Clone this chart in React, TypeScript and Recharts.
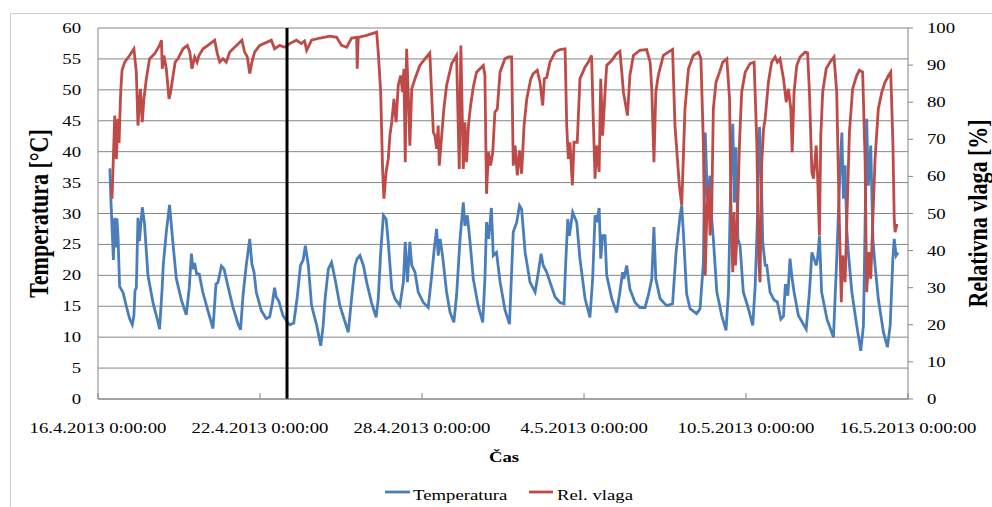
import { ComposedChart, Line, XAxis, YAxis, CartesianGrid, ReferenceLine, Label } from "recharts"

// time in days since 16.4.2013 0:00
const tempTime = [
  0.44, 0.48, 0.57, 0.62, 0.66, 0.7, 0.74, 0.8, 0.93, 1.05, 1.17, 1.27, 1.33, 1.37, 1.42, 1.48, 1.53, 1.64, 1.72, 1.85,
  2.04, 2.22, 2.28, 2.37, 2.42, 2.53, 2.65, 2.78, 2.9, 3.09, 3.27, 3.38, 3.46, 3.52, 3.58, 3.65, 3.75, 3.88, 4.07, 4.26,
  4.37, 4.44, 4.57, 4.67, 4.81, 5.0, 5.19, 5.28, 5.37, 5.49, 5.62, 5.7, 5.78, 5.86, 6.05, 6.23, 6.36, 6.46, 6.54, 6.6,
  6.7, 6.85, 7.0, 7.1, 7.25, 7.38, 7.5, 7.6, 7.68, 7.79, 7.91, 8.1, 8.25, 8.34, 8.41, 8.53, 8.65, 8.78, 8.96, 9.27,
  9.39, 9.52, 9.6, 9.7, 9.83, 9.95, 10.13, 10.3, 10.38, 10.47, 10.57, 10.67, 10.75, 10.88, 11.0, 11.18, 11.31, 11.38, 11.46, 11.55,
  11.62, 11.74, 11.86, 12.05, 12.23, 12.36, 12.44, 12.54, 12.6, 12.67, 12.76, 12.91, 13.04, 13.18, 13.28, 13.41, 13.53, 13.59, 13.68, 13.78,
  13.9, 14.08, 14.25, 14.33, 14.39, 14.47, 14.57, 14.64, 14.76, 14.89, 15.07, 15.24, 15.38, 15.51, 15.61, 15.69, 15.82, 16.0, 16.19, 16.31,
  16.41, 16.49, 16.62, 16.74, 16.93, 17.11, 17.26, 17.33, 17.4, 17.46, 17.58, 17.73, 17.85, 18.04, 18.22, 18.32, 18.41, 18.47, 18.56, 18.62,
  18.69, 18.78, 18.84, 19.03, 19.21, 19.33, 19.43, 19.48, 19.58, 19.7, 19.89, 20.07, 20.26, 20.38, 20.51, 20.59, 20.66, 20.82, 21.06, 21.28,
  21.41, 21.56, 21.62, 21.7, 21.8, 21.93, 22.17, 22.3, 22.42, 22.49, 22.57, 22.67, 22.73, 22.79, 22.92, 23.1, 23.26, 23.35, 23.44, 23.51,
  23.57, 23.63, 23.7, 23.78, 23.9, 24.09, 24.25, 24.34, 24.42, 24.5, 24.56, 24.62, 24.71, 24.77, 24.89, 25.04, 25.16, 25.29, 25.39, 25.46,
  25.55, 25.63, 25.71, 25.78, 25.94, 26.23, 26.35, 26.44, 26.52, 26.6, 26.65, 26.72, 26.8, 27.0, 27.24, 27.36, 27.46, 27.55, 27.61, 27.67,
  27.73, 27.79, 27.92, 28.1, 28.25, 28.35, 28.41, 28.47, 28.53, 28.62, 28.7, 28.78, 28.9, 29.09, 29.24, 29.34, 29.44, 29.49, 29.56, 29.63,
]
const tempValue = [
  37.3, 32, 22.5, 29.3, 24.5, 29.2, 26.5, 18.2, 17.2, 15, 13, 12, 13.5, 17.5, 18, 29.3, 25.5, 31, 28.5, 20,
  15.5, 12.5, 11.3, 17.5, 21.8, 27, 31.4, 25, 19.5, 16, 13.6, 18, 23.5, 21, 22, 20.3, 20.2, 17.3, 14.3, 11.4,
  18.6, 18.8, 21.5, 21, 18.3, 14.8, 12.1, 11.2, 16.7, 21.6, 25.9, 21.8, 20.5, 17.3, 14.3, 13, 13.3, 15.6, 18, 16.5,
  15.8, 13.5, 12.5, 12, 12.3, 16.5, 21.6, 22.5, 24.8, 21.6, 15.1, 11.9, 8.6, 11.9, 16.2, 21, 22.1, 19.4, 15.1, 10.8,
  16.2, 21.6, 22.7, 23.2, 21.6, 18.9, 15.6, 13.2, 16.2, 23.7, 29.7, 29.1, 25.4, 17.8, 16.2, 15.1, 18.9, 25.4, 18.9, 25.4,
  21.6, 20.5, 17.3, 15.6, 14.8, 20, 23.7, 27.5, 23.2, 25.9, 23.2, 17.3, 14, 12.4, 16.7, 25.9, 31.8, 28, 29.7, 25.4,
  19.4, 15.1, 12.4, 19.4, 28.6, 25.9, 30.9, 23.2, 23.7, 19, 14.5, 12.1, 27, 28.6, 31.3, 30.7, 23.7, 18.9, 17.3, 20.5,
  23.5, 21.6, 20.5, 18.9, 16.5, 15.6, 15.4, 22.7, 29.1, 26.4, 30.2, 28.6, 22.7, 16.2, 13.2, 19.4, 29.7, 28.6, 30.9, 22.7,
  26.4, 26.4, 20, 16.2, 14, 17.3, 20.5, 19.4, 21.6, 17.8, 15.6, 14.8, 14.8, 16.7, 19.4, 27.8, 19.4, 16.2, 15.1, 15.4,
  23.7, 29.7, 31.3, 25.4, 17, 14.6, 13.8, 14.6, 22, 43.1, 32.4, 36.1, 29.1, 25.9, 17.3, 13.5, 11.1, 17.3, 36.1, 44.5,
  31.8, 40.7, 25.9, 24.8, 17.3, 14.6, 11.9, 18.3, 28.6, 44, 37.8, 25.4, 21.6, 21.6, 17.3, 16, 15.7, 12.9, 13.4, 18.6,
  16.7, 22.7, 19.4, 17.3, 13.5, 11.3, 17.3, 23.7, 22.7, 21.6, 22.7, 26.4, 17.3, 12.9, 10, 22.7, 34.5, 43.1, 32.4, 37.8,
  27.5, 23.7, 17.3, 11.9, 7.8, 11.9, 28, 45.3, 34.5, 41, 25.9, 21.6, 16.2, 10.8, 8.4, 11.9, 22.7, 25.9, 23.2, 23.7,
]

const rhTime = [
  0.49, 0.52, 0.62, 0.68, 0.74, 0.78, 0.84, 0.89, 0.99, 1.17, 1.33, 1.38, 1.42, 1.48, 1.57, 1.64, 1.7, 1.79, 1.91, 2.1,
  2.28, 2.35, 2.38, 2.44, 2.53, 2.63, 2.69, 2.78, 2.86, 2.96, 3.15, 3.31, 3.4, 3.48, 3.58, 3.67, 3.74, 3.89, 4.07, 4.32,
  4.42, 4.51, 4.63, 4.75, 4.88, 5.06, 5.33, 5.43, 5.53, 5.62, 5.7, 5.8, 5.99, 6.42, 6.54, 6.73, 6.91, 7.1, 7.35, 7.53,
  7.65, 7.73, 7.91, 8.22, 8.59, 8.84, 9.02, 9.21, 9.39, 9.58, 9.6, 9.64, 9.95, 10.32, 10.38, 10.47, 10.54, 10.59, 10.67, 10.75,
  10.81, 10.88, 10.96, 11.04, 11.12, 11.21, 11.28, 11.33, 11.38, 11.43, 11.49, 11.55, 11.62, 11.74, 11.92, 12.11, 12.29, 12.42, 12.48, 12.54,
  12.6, 12.64, 12.73, 12.81, 12.91, 13.1, 13.28, 13.38, 13.44, 13.53, 13.59, 13.65, 13.72, 13.8, 13.9, 14.02, 14.27, 14.33, 14.39, 14.46,
  14.54, 14.62, 14.7, 14.79, 14.89, 15.07, 15.2, 15.32, 15.38, 15.45, 15.53, 15.61, 15.69, 15.78, 15.88, 16.03, 16.12, 16.27, 16.37, 16.47,
  16.53, 16.62, 16.74, 16.93, 17.11, 17.3, 17.36, 17.42, 17.48, 17.57, 17.63, 17.75, 17.85, 18.04, 18.16, 18.28, 18.35, 18.41, 18.47, 18.56,
  18.62, 18.69, 18.78, 18.84, 19.03, 19.21, 19.33, 19.4, 19.46, 19.61, 19.7, 19.83, 20.07, 20.32, 20.45, 20.51, 20.59, 20.66, 20.75, 20.94,
  21.12, 21.28, 21.37, 21.46, 21.53, 21.62, 21.74, 21.87, 22.05, 22.24, 22.33, 22.42, 22.49, 22.55, 22.61, 22.67, 22.73, 22.79, 22.89, 23.02,
  23.14, 23.29, 23.39, 23.45, 23.51, 23.56, 23.61, 23.66, 23.76, 23.84, 23.97, 24.15, 24.3, 24.4, 24.47, 24.52, 24.58, 24.65, 24.71, 24.83,
  24.95, 25.08, 25.16, 25.26, 25.39, 25.49, 25.57, 25.66, 25.71, 25.78, 25.88, 26.0, 26.19, 26.28, 26.35, 26.44, 26.5, 26.6, 26.65, 26.72,
  26.77, 26.84, 26.97, 27.11, 27.26, 27.36, 27.46, 27.53, 27.58, 27.67, 27.73, 27.83, 27.95, 28.1, 28.2, 28.32, 28.41, 28.47, 28.56, 28.62,
  28.7, 28.78, 28.9, 29.03, 29.15, 29.28, 29.36, 29.44, 29.49, 29.52, 29.58, 29.63,
]
const rhValue = [
  57.6, 54, 76.4, 64.7, 75.5, 69, 82.7, 88.6, 90.8, 92.6, 94.4, 90.8, 88.1, 73.7, 83.6, 74.6, 80.9, 86.3, 91.7, 93.1,
  95.3, 96.7, 89, 92.6, 89, 80.9, 82.7, 87.2, 90.8, 91.7, 94.4, 95.3, 93.5, 89, 92.2, 90.8, 92.6, 94.4, 95.3, 96.7,
  93.1, 90.8, 91.7, 90.8, 93.5, 94.8, 96.7, 93.5, 92.2, 87.7, 90.8, 93.5, 95.3, 96.7, 94.4, 95.3, 94.8, 95.8, 96.7, 95.8,
  96.5, 94, 96.7, 97.3, 97.8, 97.5, 95.3, 94.8, 97.3, 97.5, 89, 97.5, 98, 98.9, 93.5, 82.7, 62, 54, 61.2, 64.7,
  71, 74.6, 80.9, 74.6, 84.5, 87.2, 82.7, 89, 63.8, 94.4, 82.7, 68.3, 83.6, 86.3, 89.9, 91.7, 93.3, 71.9, 71, 67.4,
  73.7, 62.9, 71, 78.2, 84.5, 90.4, 92.6, 62, 95.3, 62, 74.6, 63.8, 73.7, 79.1, 84.1, 88.1, 89.9, 87.2, 55.3, 66.5,
  62.9, 66.5, 77.3, 78.2, 88.1, 91.7, 92.2, 92.2, 62.9, 68.3, 60.3, 67, 60.7, 73.7, 80.9, 86.3, 87.7, 88.6, 85.4, 79.1,
  86.3, 86.7, 90.8, 93.5, 94.2, 94.4, 73.7, 64.7, 69.2, 57.6, 69.2, 69.2, 86.3, 89.5, 90.8, 92.6, 73.7, 59.4, 68.3, 61.2,
  86.3, 71, 82.7, 89.9, 91.3, 93.1, 93.7, 88.1, 82.7, 76.4, 87.2, 92.6, 94, 94.2, 90.8, 83.6, 63.8, 82.7, 87.2, 92.6,
  93.5, 94.2, 73.7, 64.7, 57.6, 52.2, 78.2, 89, 92.6, 93.5, 91.7, 69.2, 33.3, 50.4, 57.6, 44.1, 50.4, 78.2, 85.4, 88.1,
  90.8, 91.7, 80.9, 49.5, 34.2, 50.4, 36, 43.2, 69.2, 82.7, 88.1, 90.4, 90.8, 69.2, 37.8, 31.5, 63, 72.8, 75.5, 85.4,
  90.8, 92.2, 90.8, 91.7, 86.3, 80, 83.6, 78.2, 66.5, 82.7, 89.9, 92.2, 93.5, 93.3, 82.7, 61.2, 59.4, 68.3, 60.3, 44.1,
  71, 82.7, 89, 90.8, 92.2, 82.7, 46.8, 26.1, 38.7, 31.5, 46.8, 71.9, 83.6, 87.2, 88.6, 88.1, 64.7, 28.8, 39.6, 32.4,
  48.6, 64.7, 78.2, 82.7, 85.4, 87.2, 88.1, 69.2, 48.6, 45, 46.8, 46.8,
]

const xTicks = [0, 6, 12, 18, 24, 30]
const xTickLabels = [
  "16.4.2013 0:00:00",
  "22.4.2013 0:00:00",
  "28.4.2013 0:00:00",
  "4.5.2013 0:00:00",
  "10.5.2013 0:00:00",
  "16.5.2013 0:00:00",
]
const tempTicks = [0, 5, 10, 15, 20, 25, 30, 35, 40, 45, 50, 55, 60]
const rhTicks = [0, 10, 20, 30, 40, 50, 60, 70, 80, 90, 100]
const markerDay = 7

const tempData = tempTime.map((t, i) => ({ t, v: tempValue[i] }))
const rhData = rhTime.map((t, i) => ({ t, v: rhValue[i] }))

const FONT = '"Liberation Serif", "Times New Roman", serif'
const SX = 1.25 // text in the original is stretched horizontally
const BLUE = "#4A7EBB"
const RED = "#BE4B48"
const AXIS = "#868686"

const LeftTick = ({ x, y, payload }: any) => (
  <g transform={`translate(${x - 17},${y + 5}) scale(${SX},1)`}>
    <text textAnchor="end" fontFamily={FONT} fontSize={15} fill="#000">
      {payload.value}
    </text>
  </g>
)

const RightTick = ({ x, y, payload }: any) => (
  <g transform={`translate(${x + 14},${y + 5}) scale(${SX},1)`}>
    <text textAnchor="start" fontFamily={FONT} fontSize={15} fill="#000">
      {payload.value}
    </text>
  </g>
)

const BottomTick = ({ x, y, payload }: any) => {
  const idx = xTicks.indexOf(payload.value)
  return (
    <g>
      <line x1={x} x2={x} y1={y} y2={y - 6} stroke={AXIS} />
      <g transform={`translate(${x},${y + 34}) scale(${SX},1)`}>
        <text textAnchor="middle" fontFamily={FONT} fontSize={15} fill="#000">
          {idx >= 0 ? xTickLabels[idx] : ""}
        </text>
      </g>
    </g>
  )
}

const VerticalTitle = (text: string, dx: number) => (props: any) => {
  const vb = props.viewBox || {}
  const cx = (vb.x ?? 0) + dx
  const cy = (vb.y ?? 28) + (vb.height ?? 371) / 2
  return (
    <g transform={`translate(${cx},${cy}) scale(${SX},1) rotate(-90)`}>
      <text textAnchor="middle" fontFamily={FONT} fontSize={22} fontWeight="bold" fill="#000">
        {text}
      </text>
    </g>
  )
}

const BottomTitle = (props: any) => {
  const vb = props.viewBox || {}
  const cx = (vb.x ?? 98) + (vb.width ?? 810) / 2 + 1
  const cy = (vb.y ?? 399) + 63
  return (
    <g transform={`translate(${cx},${cy}) scale(${SX},1)`}>
      <text textAnchor="middle" fontFamily={FONT} fontSize={15} fontWeight="bold" fill="#000">
        Čas
      </text>
    </g>
  )
}

export default function App() {
  return (
    <div style={{ position: "absolute", left: 0, top: 0, width: 992, height: 507, overflow: "hidden", background: "#fff" }}>
      <div
        style={{
          position: "absolute",
          left: 10,
          top: 13,
          width: 1100,
          height: 600,
          border: "1px solid #cfcfcf",
        }}
      />
      <div style={{ position: "absolute", left: 0, top: 0 }}>
        <ComposedChart width={992} height={507} margin={{ top: 28, right: 0, bottom: 0, left: 0 }}>
          <CartesianGrid yAxisId="left" vertical={false} stroke={AXIS} />
          <XAxis
            dataKey="t"
            type="number"
            domain={[0, 30]}
            ticks={xTicks}
            allowDataOverflow
            height={108}
            stroke={AXIS}
            tickLine={false}
            tickSize={0}
            tickMargin={0}
            tick={<BottomTick />}
            interval={0}
          >
            <Label content={BottomTitle} />
          </XAxis>
          <YAxis
            yAxisId="left"
            domain={[0, 60]}
            ticks={tempTicks}
            width={98}
            stroke={AXIS}
            tickLine={false}
            tickSize={0}
            tickMargin={0}
            tick={<LeftTick />}
            interval={0}
          >
            <Label content={VerticalTitle("Temperatura [°C]", 48)} />
          </YAxis>
          <YAxis
            yAxisId="right"
            orientation="right"
            domain={[0, 100]}
            ticks={rhTicks}
            width={84}
            stroke={AXIS}
            tickSize={5}
            tickMargin={0}
            tick={<RightTick />}
            interval={0}
          >
            <Label content={VerticalTitle("Relativna vlaga [%]", 79)} />
          </YAxis>
          <Line
            yAxisId="left"
            data={tempData}
            dataKey="v"
            type="linear"
            stroke={BLUE}
            strokeWidth={2.8}
            dot={false}
            isAnimationActive={false}
          />
          <Line
            yAxisId="right"
            data={rhData}
            dataKey="v"
            type="linear"
            stroke={RED}
            strokeWidth={2.8}
            dot={false}
            isAnimationActive={false}
          />
          <ReferenceLine yAxisId="left" x={markerDay} stroke="#000" strokeWidth={3} />
        </ComposedChart>
      </div>
      <svg width={992} height={507} style={{ position: "absolute", left: 0, top: 0, pointerEvents: "none" }}>
        <line x1={385} x2={410} y1={492} y2={492} stroke={BLUE} strokeWidth={2.8} />
        <g transform={`translate(413,500) scale(${SX},1)`}>
          <text fontFamily={FONT} fontSize={15} fill="#000">
            Temperatura
          </text>
        </g>
        <line x1={529} x2={553} y1={492} y2={492} stroke={RED} strokeWidth={2.8} />
        <g transform={`translate(557,500) scale(${SX},1)`}>
          <text fontFamily={FONT} fontSize={15} fill="#000">
            Rel. vlaga
          </text>
        </g>
      </svg>
    </div>
  )
}
